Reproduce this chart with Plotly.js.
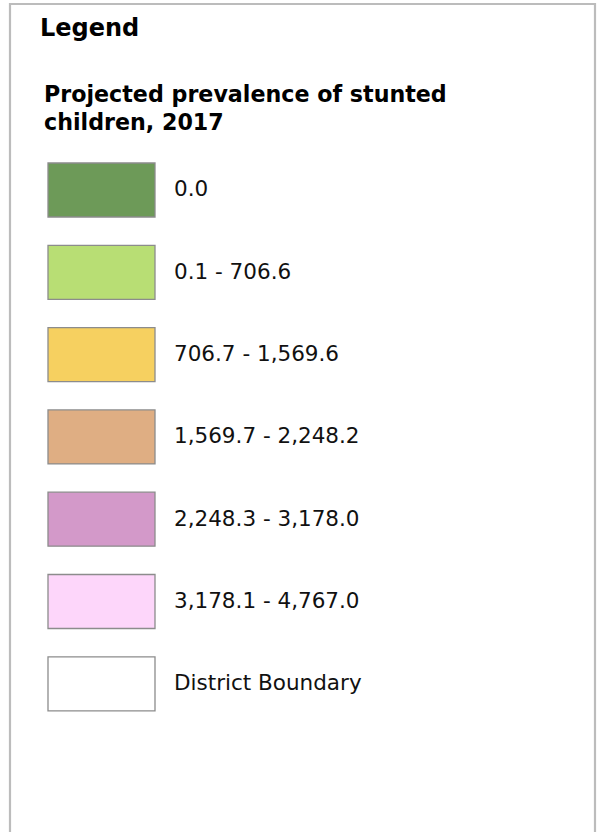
<!DOCTYPE html>
<html>
<head>
<meta charset="utf-8">
<script src="https://cdn.plot.ly/plotly-3.0.1.min.js"></script>
<style>html,body{margin:0;padding:0;background:#fff;}#chart{width:597px;height:832px;}</style>
</head>
<body>
<div id="chart"></div>
<script>
const legendTitle = "Legend";
const layerTitle = ["Projected prevalence of stunted", "children, 2017"];
const classLabels = ["0.0", "0.1 - 706.6", "706.7 - 1,569.6", "1,569.7 - 2,248.2", "2,248.3 - 3,178.0", "3,178.1 - 4,767.0", "District Boundary"];
const classColors = ["#6d9a58", "#b8de74", "#f6d060", "#dfae83", "#d399c9", "#fdd6fa", "#ffffff"];

const W = 597, H = 832;
const firstTop = 163, step = 82.3, swH = 54, swX = 48, swW = 107;
const font = "DejaVu Sans, Verdana, sans-serif";

const centers = classLabels.map((_, i) => firstTop + i * step + swH / 2);

const swatches = {
  type: "bar",
  orientation: "h",
  y: centers,
  x: classLabels.map(() => swW),
  base: swX,
  width: swH,
  marker: { color: classColors, line: { color: "#8c8c8c", width: 1.3 } },
  hoverinfo: "skip",
  showlegend: false
};

const labels = {
  type: "scatter",
  mode: "text",
  x: classLabels.map(() => 174),
  y: centers.map(c => c + 1),
  text: classLabels,
  textposition: "middle right",
  textfont: { family: font, size: 21.5, color: "#111" },
  hoverinfo: "skip",
  showlegend: false
};

const annotations = [
  { x: 38, y: 28, text: "<b>" + legendTitle + "</b>", font: { family: font, size: 24, color: "#000" } },
  { x: 42, y: 94, text: "<b>" + layerTitle[0] + "</b>", font: { family: font, size: 22.2, color: "#000" } },
  { x: 42, y: 122, text: "<b>" + layerTitle[1] + "</b>", font: { family: font, size: 22.2, color: "#000" } }
].map(a => Object.assign(a, { xref: "x", yref: "y", xanchor: "left", yanchor: "middle", showarrow: false }));

const layout = {
  width: W, height: H,
  margin: { l: 0, r: 0, t: 0, b: 0 },
  paper_bgcolor: "#fff", plot_bgcolor: "#fff",
  xaxis: { range: [0, W], visible: false, fixedrange: true },
  yaxis: { range: [H, 0], visible: false, fixedrange: true },
  bargap: 0,
  shapes: [
    { type: "rect", xref: "x", yref: "y", x0: 10, y0: 4, x1: 595, y1: H + 10, line: { color: "#bcbcbc", width: 2.2 }, fillcolor: "rgba(0,0,0,0)" }
  ],
  annotations: annotations
};

Plotly.newPlot("chart", [swatches, labels], layout, { displayModeBar: false, staticPlot: true });
</script>
</body>
</html>
